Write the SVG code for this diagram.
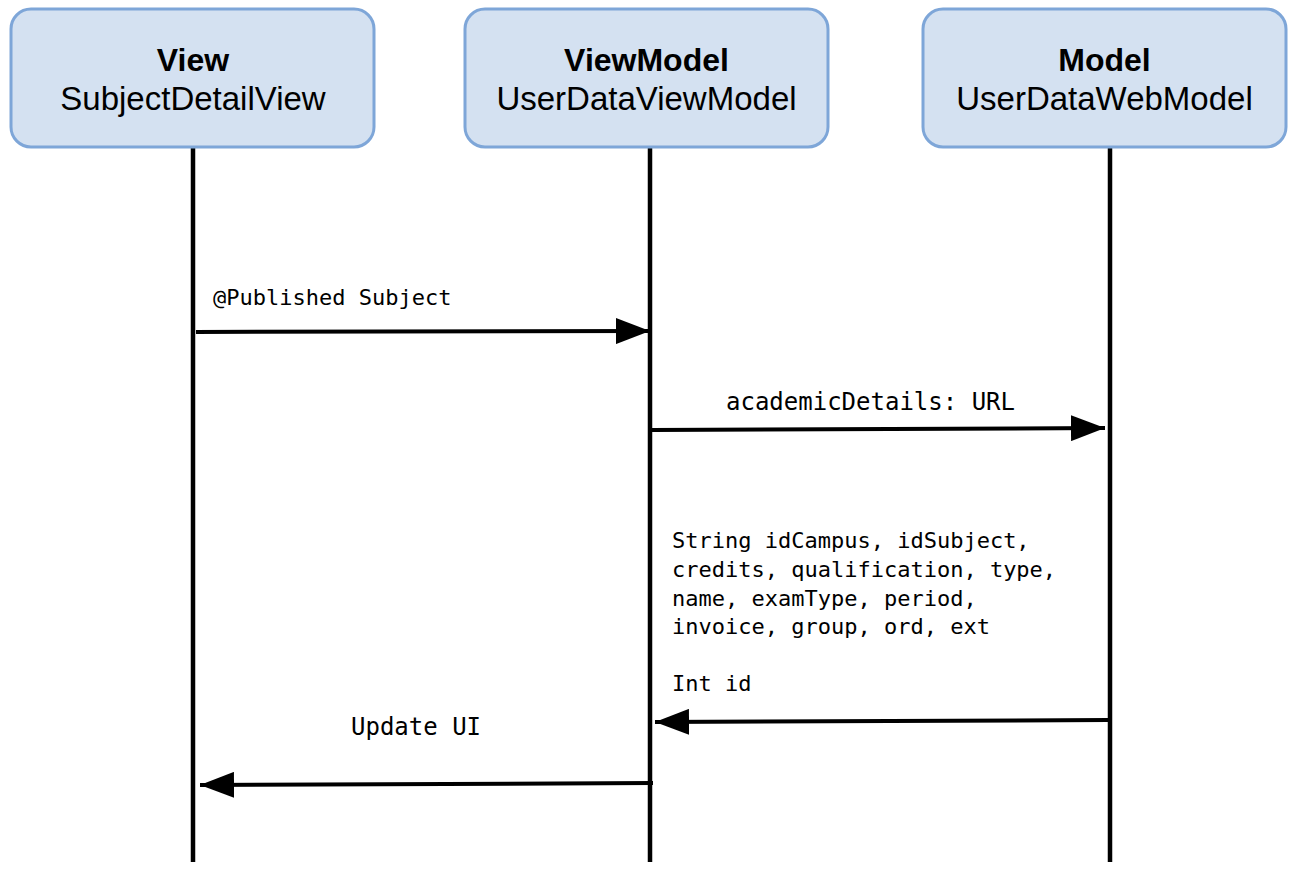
<svg xmlns="http://www.w3.org/2000/svg" width="1298" height="872" viewBox="0 0 1298 872">
<style>
.box{fill:#d4e1f1;stroke:#7ea6d8;stroke-width:3}
.t{font-family:"Liberation Sans",Arial,sans-serif;font-size:33px;fill:#000;text-anchor:middle}
.b{font-weight:bold;font-size:32px}
.life{stroke:#000;stroke-width:4.5}
.msg{stroke:#000;stroke-width:4;fill:none}
.m{font-family:"DejaVu Sans Mono",monospace;fill:#000}
.s22{font-size:22px}
.s24{font-size:24px}
</style>
<defs>
<marker id="ah" markerUnits="userSpaceOnUse" markerWidth="36" markerHeight="26" refX="34" refY="13" orient="auto">
<path d="M0,0 L34,13 L0,26 Z" fill="#000"/>
</marker>
</defs>
<g id="lifelines">
<line class="life" x1="193" y1="147" x2="193" y2="862"/>
<line class="life" x1="650" y1="147" x2="650" y2="862"/>
<line class="life" x1="1110" y1="147" x2="1110" y2="862"/>
</g>
<g id="view">
<rect class="box" x="11" y="9" width="363" height="138" rx="20"/>
<text class="t b" x="193" y="71">View</text>
<text class="t" x="193" y="110">SubjectDetailView</text>
</g>
<g id="viewmodel">
<rect class="box" x="465" y="9" width="363" height="138" rx="20"/>
<text class="t b" x="646.5" y="71">ViewModel</text>
<text class="t" x="646.5" y="110">UserDataViewModel</text>
</g>
<g id="model">
<rect class="box" x="923" y="9" width="363" height="138" rx="20"/>
<text class="t b" x="1104.5" y="71">Model</text>
<text class="t" x="1104.5" y="110">UserDataWebModel</text>
</g>
<g id="connectors">
<line class="msg" x1="196" y1="332" x2="650" y2="331" marker-end="url(#ah)"/>
<line class="msg" x1="652" y1="430" x2="1105" y2="428" marker-end="url(#ah)"/>
<line class="msg" x1="1108" y1="720" x2="655" y2="722" marker-end="url(#ah)"/>
<line class="msg" x1="653" y1="783" x2="200" y2="785" marker-end="url(#ah)"/>
</g>
<g id="labels">
<text class="m s22" x="213" y="305">@Published Subject</text>
<text class="m s24" x="726" y="410">academicDetails: URL</text>
<text class="m s22" x="672" y="548">String idCampus, idSubject,</text>
<text class="m s22" x="672" y="577">credits, qualification, type,</text>
<text class="m s22" x="672" y="605.5">name, examType, period,</text>
<text class="m s22" x="672" y="634">invoice, group, ord, ext</text>
<text class="m s22" x="672" y="691">Int id</text>
<text class="m s24" x="351" y="735">Update UI</text>
</g>
</svg>
